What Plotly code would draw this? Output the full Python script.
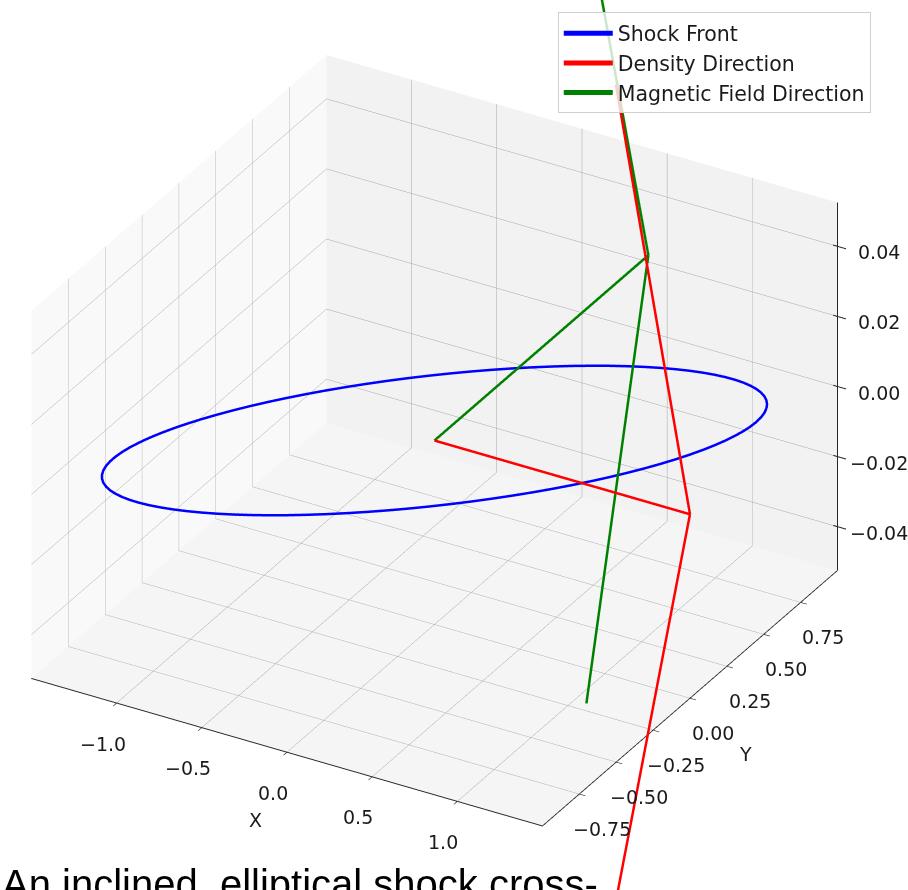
import numpy as np
import plotly.graph_objects as go

# Shock front: an ellipse in the z = 0 plane, rotated by the inclination angle
semi_major = 1.5
semi_minor = 0.5
inclination_deg = 30.0
n_samples = 100

# Direction vectors drawn from the origin (quiver-style arrows)
arrow_origin = [0.0, 0.0, 0.0]
density_vector = [1.5, 0.0, 0.0]
field_vector = [0.0, 1.45, 0.0]
head_ratio = 0.3
head_angle_deg = 15.0

# Axis ranges and ticks
x_range = [-1.5, 1.5]
y_range = [-1.0, 1.0]
z_range = [-0.0525, 0.0525]
x_ticks = [-1.0, -0.5, 0.0, 0.5, 1.0]
y_ticks = [-0.75, -0.5, -0.25, 0.0, 0.25, 0.5, 0.75]
z_ticks = [-0.04, -0.02, 0.0, 0.02, 0.04]

caption = "An inclined, elliptical shock cross-"

# camera: elevation 30 deg, azimuth -60 deg, orthographic
elev, azim = np.radians(30.0), np.radians(-60.0)
eye_dist = 2.5
view_dir = np.array([np.cos(elev) * np.cos(azim), np.cos(elev) * np.sin(azim), np.sin(elev)])
screen_right = np.array([-np.sin(azim), np.cos(azim), 0.0])
screen_up = np.cross(view_dir, screen_right)
# pan the view a little (world units) so the box sits left of centre
look_at = 0.0439 * screen_right - 0.0101 * screen_up
eye_pos = look_at + eye_dist * view_dir
camera = dict(eye=dict(x=eye_pos[0], y=eye_pos[1], z=eye_pos[2]),
              center=dict(x=look_at[0], y=look_at[1], z=look_at[2]),
              up=dict(x=0, y=0, z=1), projection=dict(type="orthographic"))
# orthographic zoom is carried by the aspect ratio
zoom = 1.326
box_aspect = dict(x=1.0 * zoom, y=1.0 * zoom, z=0.72 * zoom)
# overlay scene: same data-to-world mapping on a bigger box, so the arrows
# and the z axis are drawn without being clipped at the axis limits
overlay_scale = 4.0

label_font = dict(family="DejaVu Sans", size=19, color="#1a1a1a")


def fmt(v, digits):
    s = f"{abs(v):.{digits}f}"
    return ("\u2212" + s) if v < 0 else s


t = np.linspace(0, 2 * np.pi, n_samples)
inc = np.radians(inclination_deg)
ex = semi_major * np.cos(t)
ey = semi_minor * np.sin(t)
shock_x = ex * np.cos(inc) - ey * np.sin(inc)
shock_y = ex * np.sin(inc) + ey * np.cos(inc)
shock_z = np.zeros_like(t)


def rotate(v, axis, ang):
    axis = np.asarray(axis, float)
    v = np.asarray(v, float)
    return (v * np.cos(ang) + np.cross(axis, v) * np.sin(ang)
            + axis * np.dot(axis, v) * (1 - np.cos(ang)))


def arrow_segments(origin, vec):
    o = np.asarray(origin, float)
    v = np.asarray(vec, float)
    tip = o + v
    n = np.hypot(v[0], v[1])
    axis = np.array([v[1] / n, -v[0] / n, 0.0]) if n > 0 else np.array([0.0, 1.0, 0.0])
    ang = np.radians(head_angle_deg)
    h1 = tip - head_ratio * rotate(v, axis, ang)
    h2 = tip - head_ratio * rotate(v, axis, -ang)
    pts = [o, tip, None, tip, h1, None, tip, h2]
    xs = [p[0] if p is not None else None for p in pts]
    ys = [p[1] if p is not None else None for p in pts]
    zs = [p[2] if p is not None else None for p in pts]
    return xs, ys, zs


fig = go.Figure()
fig.add_trace(go.Scatter3d(x=shock_x, y=shock_y, z=shock_z, mode="lines", scene="scene",
                           line=dict(color="blue", width=5), name="Shock Front",
                           legendgroup="a", hoverinfo="skip"))
dx, dy, dz = arrow_segments(arrow_origin, density_vector)
fig.add_trace(go.Scatter3d(x=dx, y=dy, z=dz, mode="lines", connectgaps=False, scene="scene2",
                           line=dict(color="red", width=5), name="Density Direction",
                           legendgroup="b", hoverinfo="skip"))
bx, by, bz = arrow_segments(arrow_origin, field_vector)
fig.add_trace(go.Scatter3d(x=bx, y=by, z=bz, mode="lines", connectgaps=False, scene="scene2",
                           line=dict(color="green", width=5), name="Magnetic Field Direction",
                           legendgroup="c", hoverinfo="skip"))

# z axis spine and tick marks on the right-hand vertical edge
xe, ye = x_range[1], y_range[1]
tick_out, tick_in = 0.05, 0.025
zx, zy, zz = [xe, xe], [ye, ye], [z_range[0], z_range[1]]
for zt in z_ticks:
    zx += [None, xe - tick_in, xe + tick_out]
    zy += [None, ye, ye]
    zz += [None, zt, zt]
fig.add_trace(go.Scatter3d(x=zx, y=zy, z=zz, mode="lines", connectgaps=False, scene="scene2",
                           line=dict(color="#262626", width=2), showlegend=False,
                           hoverinfo="skip"))

# tick labels next to the ticks on each axis edge (kept just inside the limits)
inset = 0.999
x_lo, x_hi = x_range[0] * inset, x_range[1] * inset
y_lo, y_hi = y_range[0] * inset, y_range[1] * inset
z_lo = z_range[0] * inset
annos = []
for v in x_ticks:
    annos.append(dict(x=v, y=y_lo, z=z_lo, text=fmt(v, 1), xshift=-14, yshift=-41))
for v in y_ticks:
    annos.append(dict(x=x_hi, y=v, z=z_lo, text=fmt(v, 2), xshift=23, yshift=-35))
for v in z_ticks:
    annos.append(dict(x=x_hi, y=y_hi, z=v, text=fmt(v, 2), xshift=42, yshift=-6))
annos.append(dict(x=0.0, y=y_lo, z=z_lo, text="X", xshift=-32, yshift=-68))
annos.append(dict(x=x_hi, y=0.0, z=z_lo, text="Y", xshift=56, yshift=-56))
for a in annos:
    a.update(showarrow=False, xanchor="center", yanchor="middle", font=label_font)

common = dict(showgrid=True, gridcolor="#a6a6a6", gridwidth=1,
              showline=True, linecolor="#262626", linewidth=2,
              ticks="outside", ticklen=7, tickcolor="#262626", tickwidth=1.5,
              showticklabels=False, zeroline=False, showbackground=True,
              showspikes=False, autorange=False, title=dict(text=""))
hidden = dict(visible=False, showbackground=False, showspikes=False, autorange=False)

fig.update_layout(
    width=908, height=890,
    margin=dict(l=0, r=0, t=0, b=0),
    paper_bgcolor="white",
    font=dict(family="DejaVu Sans", size=19, color="#1a1a1a"),
    scene=dict(
        xaxis=dict(common, range=x_range, tickvals=x_ticks, backgroundcolor="#f9f9f9"),
        yaxis=dict(common, range=y_range, tickvals=y_ticks, backgroundcolor="#f2f2f2"),
        zaxis=dict(common, range=z_range, tickvals=z_ticks, backgroundcolor="#f5f5f5",
                   showline=False, ticks=""),
        aspectmode="manual", aspectratio=box_aspect,
        camera=camera, domain=dict(x=[0, 1], y=[0, 1]),
        annotations=annos,
    ),
    scene2=dict(
        xaxis=dict(hidden, range=[v * overlay_scale for v in x_range]),
        yaxis=dict(hidden, range=[v * overlay_scale for v in y_range]),
        zaxis=dict(hidden, range=[v * overlay_scale for v in z_range]),
        aspectmode="manual",
        aspectratio={k: v * overlay_scale for k, v in box_aspect.items()},
        camera=camera, domain=dict(x=[0, 1], y=[0, 1]),
        bgcolor="rgba(0,0,0,0)",
    ),
    legend=dict(x=0.959, y=0.986, xanchor="right", yanchor="top",
                bgcolor="rgba(255,255,255,0.8)", bordercolor="#d0d0d0", borderwidth=1,
                tracegroupgap=0, itemwidth=49,
                font=dict(family="DejaVu Sans", size=20.5, color="#1a1a1a")),
    annotations=[dict(text=caption, xref="paper", yref="paper", x=0.0, y=0.0335,
                      xanchor="left", yanchor="top", showarrow=False,
                      font=dict(family="Liberation Sans", size=40, color="black"))],
)

fig.write_html("out.html")
